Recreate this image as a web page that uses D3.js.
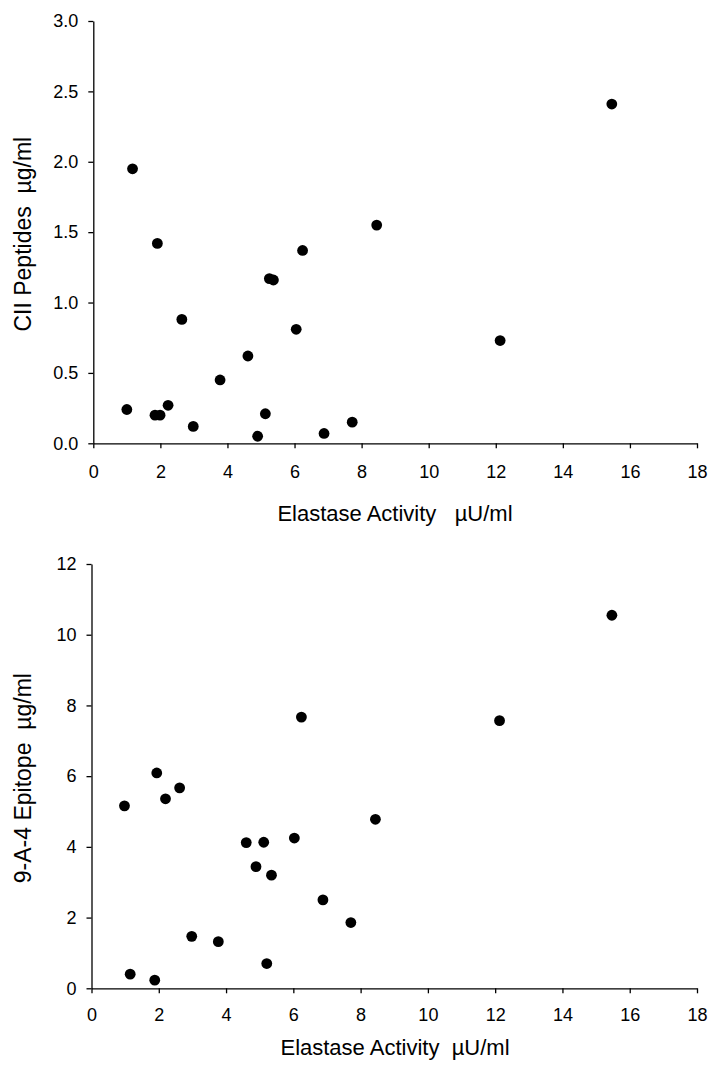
<!DOCTYPE html>
<html>
<head>
<meta charset="utf-8">
<script src="https://cdn.jsdelivr.net/npm/d3@7"></script>
<style>
  body { margin: 0; background: #fff; }
  svg { display: block; font-family: "Liberation Sans", Arial, sans-serif; }
</style>
</head>
<body>
<div id="chart"></div>
<script>
// two scatter panels sharing the elastase axis
const width = 709;
const height = 1070;

const xTicks = [0, 2, 4, 6, 8, 10, 12, 14, 16, 18];
const ciiTicks = [0, 0.5, 1.0, 1.5, 2.0, 2.5, 3.0];
const epitopeTicks = [0, 2, 4, 6, 8, 10, 12];

// top panel: CII peptides vs elastase
const elastaseTop = [1.17, 1.91, 6.24, 5.25, 5.37, 2.64, 6.05, 4.61, 3.78, 1.00, 1.84, 1.99, 2.23, 2.98, 5.13, 4.90, 6.88, 7.72, 15.46, 8.45, 12.13];
const ciiPeptides = [1.95, 1.42, 1.37, 1.17, 1.16, 0.88, 0.81, 0.62, 0.45, 0.24, 0.20, 0.20, 0.27, 0.12, 0.21, 0.05, 0.07, 0.15, 2.41, 1.55, 0.73];

// bottom panel: 9-A-4 epitope vs elastase
const elastaseBottom = [6.24, 1.94, 2.62, 2.20, 0.98, 4.60, 5.12, 6.03, 4.89, 5.35, 6.88, 7.71, 2.98, 3.77, 5.21, 1.15, 1.88, 15.47, 12.13, 8.44];
const epitope = [7.67, 6.09, 5.67, 5.36, 5.16, 4.12, 4.13, 4.25, 3.44, 3.20, 2.50, 1.86, 1.47, 1.32, 0.70, 0.40, 0.23, 10.55, 7.57, 4.78];

const svg = d3.select('#chart').append('svg')
  .attr('width', width).attr('height', height);

function panel(opts) {
  const x = d3.scaleLinear().domain([0, 18]).range([opts.left, 697]);
  const y = d3.scaleLinear().domain(opts.yDomain).range([opts.bottom, opts.top]);

  const g = svg.append('g');

  g.append('g')
    .attr('transform', `translate(0, ${opts.bottom})`)
    .call(d3.axisBottom(x).tickValues(xTicks).tickSize(5).tickPadding(opts.xPad).tickSizeOuter(0))
    .call(a => a.selectAll('text').style('font-size', '18px').attr('fill', '#000'))
    .call(a => a.selectAll('line, path').attr('stroke', '#000').attr('stroke-width', 1.3));

  g.append('g')
    .attr('transform', `translate(${opts.left}, 0)`)
    .call(d3.axisLeft(y).tickValues(opts.yTicks).tickFormat(opts.fmt).tickSize(5).tickPadding(10).tickSizeOuter(0))
    .call(a => a.selectAll('text').style('font-size', '18px').attr('fill', '#000'))
    .call(a => a.selectAll('line, path').attr('stroke', '#000').attr('stroke-width', 1.3));

  g.append('g')
    .selectAll('circle').data(opts.xs).enter().append('circle')
    .attr('cx', d => x(d))
    .attr('cy', (d, i) => y(opts.ys[i]))
    .attr('r', 5.4)
    .attr('fill', '#000');

  g.append('text')
    .attr('x', 395).attr('y', opts.xTitleY)
    .attr('text-anchor', 'middle')
    .style('font-size', '22px')
    .style('white-space', 'pre')
    .attr('xml:space', 'preserve')
    .text(opts.xTitle);

  g.append('text')
    .attr('transform', `translate(31, ${(opts.top + opts.bottom) / 2 + 2}) rotate(-90)`)
    .attr('text-anchor', 'middle')
    .style('font-size', '23px')
    .style('white-space', 'pre')
    .attr('xml:space', 'preserve')
    .text(opts.yTitle);
}

panel({
  left: 93.3, top: 21, bottom: 443.3,
  yDomain: [0, 3], yTicks: ciiTicks, fmt: d3.format('.1f'),
  xs: elastaseTop, ys: ciiPeptides, xPad: 17,
  xTitle: 'Elastase Activity   \u00b5U/ml', xTitleY: 521,
  yTitle: 'CII Peptides  \u00b5g/ml'
});

panel({
  left: 91.5, top: 564, bottom: 988.3,
  yDomain: [0, 12], yTicks: epitopeTicks, fmt: d3.format('d'),
  xs: elastaseBottom, ys: epitope, xPad: 15,
  xTitle: 'Elastase Activity  \u00b5U/ml', xTitleY: 1055,
  yTitle: '9-A-4 Epitope  \u00b5g/ml'
});
</script>
</body>
</html>
